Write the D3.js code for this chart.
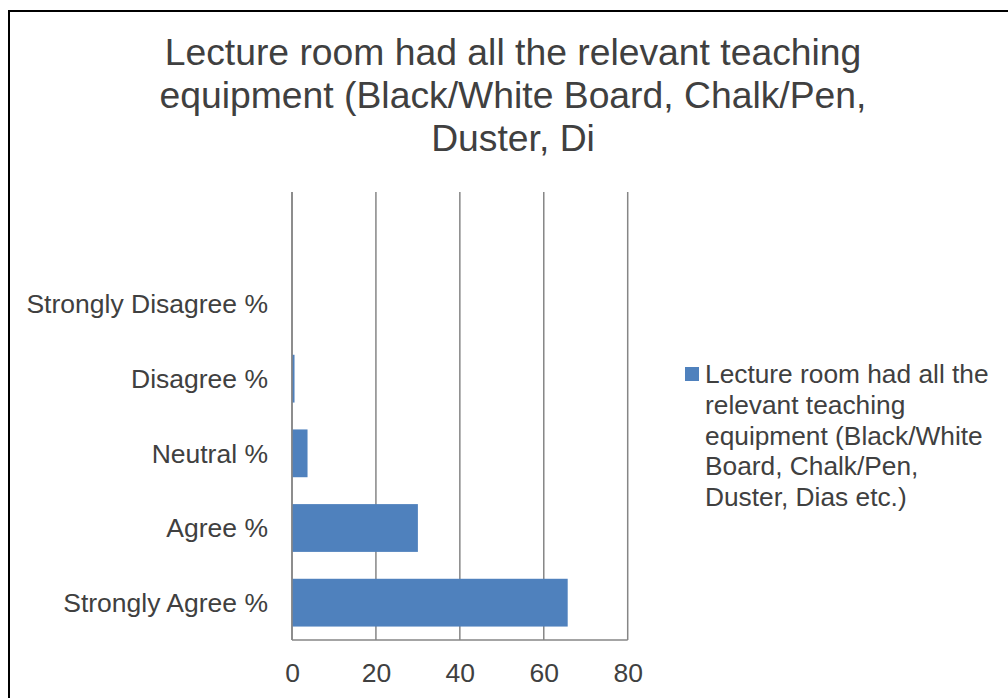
<!DOCTYPE html>
<html>
<head>
<meta charset="utf-8">
<script src="https://cdn.jsdelivr.net/npm/d3@7"></script>
<style>
  html, body { margin: 0; padding: 0; background: #fff; }
  svg { display: block; font-family: "Liberation Sans", Arial, sans-serif; }
</style>
</head>
<body>
<svg id="chart" width="1008" height="698"></svg>
<script>
// categories from top to bottom; the top row is an empty category
const categories = ["", "Strongly Disagree %", "Disagree %", "Neutral %", "Agree %", "Strongly Agree %"];
const values = [null, 0, 0.6, 3.7, 30.0, 65.7];
const xTicks = [0, 20, 40, 60, 80];
const titleLines = [
  "Lecture room had all the relevant teaching",
  "equipment (Black/White Board, Chalk/Pen,",
  "Duster, Di"
];
const legendLines = [
  "Lecture room had all the",
  "relevant teaching",
  "equipment (Black/White",
  "Board, Chalk/Pen,",
  "Duster, Dias etc.)"
];

const barColor = "#4f81bd";
const textColor = "#404040";
const gridColor = "#868686";

const svg = d3.select("#chart");

// outer frame (right and bottom edges are off the page)
svg.append("rect")
  .attr("x", 9).attr("y", 11)
  .attr("width", 1100).attr("height", 800)
  .attr("fill", "none")
  .attr("stroke", "#000")
  .attr("stroke-width", 2);

// title
svg.append("g")
  .selectAll("text")
  .data(titleLines)
  .enter()
  .append("text")
  .attr("x", 513)
  .attr("y", (d, i) => 65 + i * 43)
  .attr("text-anchor", "middle")
  .attr("font-size", 37.3)
  .attr("fill", textColor)
  .text((d) => d);

const plot = { left: 292, right: 627.7, top: 192, bottom: 640 };

const x = d3.scaleLinear().domain([0, 80]).range([plot.left, plot.right]);
const y = d3.scaleBand()
  .domain(categories)
  .range([plot.top, plot.bottom])
  .paddingInner(0.36)
  .paddingOuter(0.18);

// gridlines
svg.append("g")
  .selectAll("line")
  .data(xTicks)
  .enter()
  .append("line")
  .attr("x1", (d) => x(d))
  .attr("x2", (d) => x(d))
  .attr("y1", plot.top)
  .attr("y2", plot.bottom)
  .attr("stroke", gridColor)
  .attr("stroke-width", 1.5);

// bars
svg.append("g")
  .selectAll("rect")
  .data(categories.map((c, i) => ({ c, v: values[i] })).filter((d) => d.v != null))
  .enter()
  .append("rect")
  .attr("x", x(0))
  .attr("y", (d) => y(d.c))
  .attr("width", (d) => x(d.v) - x(0))
  .attr("height", y.bandwidth())
  .attr("fill", barColor);

// axes lines
svg.append("line")
  .attr("x1", x(0)).attr("x2", x(0))
  .attr("y1", plot.top).attr("y2", plot.bottom)
  .attr("stroke", gridColor).attr("stroke-width", 1.5);
svg.append("line")
  .attr("x1", plot.left).attr("x2", plot.right)
  .attr("y1", plot.bottom).attr("y2", plot.bottom)
  .attr("stroke", gridColor).attr("stroke-width", 1.5);

// x tick labels
const xAxis = svg.append("g")
  .attr("transform", `translate(0,${plot.bottom})`)
  .call(d3.axisBottom(x).tickValues(xTicks).tickSize(0).tickPadding(0));
xAxis.select(".domain").remove();
xAxis.selectAll("text")
  .attr("dy", null)
  .attr("y", 41.7)
  .attr("font-size", 26.5)
  .attr("font-family", "Liberation Sans, Arial, sans-serif")
  .attr("fill", textColor);

// category labels
const yAxis = svg.append("g")
  .attr("transform", `translate(${plot.left},0)`)
  .call(d3.axisLeft(y).tickSize(0).tickPadding(24));
yAxis.select(".domain").remove();
yAxis.selectAll("text")
  .attr("dy", "0.35em")
  .attr("font-size", 26.5)
  .attr("font-family", "Liberation Sans, Arial, sans-serif")
  .attr("fill", textColor);

// legend
const legend = svg.append("g");
legend.append("rect")
  .attr("x", 685).attr("y", 367)
  .attr("width", 14).attr("height", 14)
  .attr("fill", barColor);
legend.selectAll("text")
  .data(legendLines)
  .enter()
  .append("text")
  .attr("x", 705)
  .attr("y", (d, i) => 383 + i * 30.8)
  .attr("font-size", 26.3)
  .attr("fill", textColor)
  .text((d) => d);
</script>
</body>
</html>
